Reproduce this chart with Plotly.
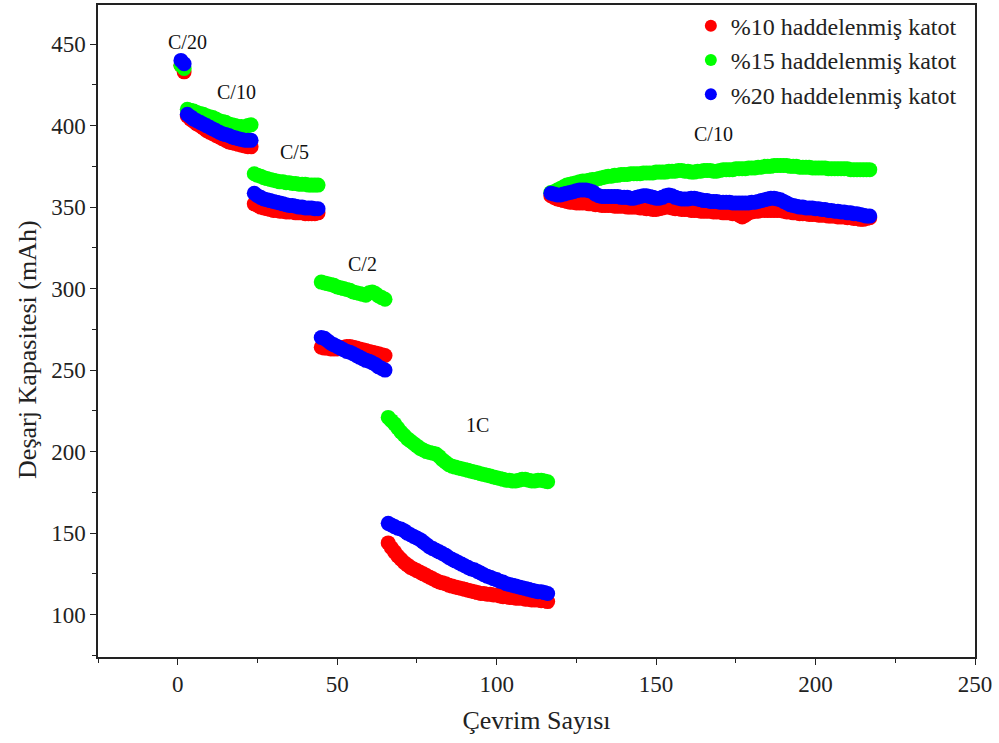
import plotly.graph_objects as go

# Cycle numbers (1..217)
cycles = list(range(1, 218))

# Discharge capacity (mAh) per cycle, grouped by C-rate step
red_c20 = [437, 433]
red_c10a = [406, 404, 402.5, 401, 400, 398.5, 397, 396, 395, 394, 393, 392, 391, 390, 389.5,
            389, 388.5, 388, 387.5, 387, 387]
red_c5 = [352, 351, 350, 349.5, 349, 348.5, 348, 348, 347.5, 347.5, 347, 347, 347, 346.5, 346.5,
          346.5, 346, 346, 346, 346, 346.5]
red_c2 = [264, 263.5, 263.5, 263, 263, 263, 263.5, 264, 264.5, 264.5, 264, 263.5, 263, 262.5, 262,
          261.5, 261, 260.5, 260, 259.5, 259]
red_1c = [144, 141, 138.5, 136, 134, 132, 130.5, 129, 128, 127, 126, 125, 124, 123, 122, 121, 120,
          119.5, 119, 118, 117.5, 117, 116.5, 116, 115.5, 115, 114.5, 114, 113.5, 113, 113, 112.5,
          112.5, 112, 112, 111.5, 111, 111, 110.5, 110.5, 110, 110, 110, 109.5, 109.5, 109, 109, 109,
          108.5, 108.5, 108]
red_c10b = [357, 356, 355, 354.5, 354, 353.5, 353, 353, 352.5, 352.5,
            352.5, 352.5, 352, 352, 351.5, 351.5, 351, 351, 351, 351,
            350.5, 350.5, 350.5, 350.5, 350, 350, 350, 350, 349.5, 349.5,
            349, 349, 348.5, 348.5, 349, 349.5, 350, 350, 349.5, 349,
            349, 348.5, 348.5, 348.5, 348, 348, 348, 347.5, 347.5, 347.5,
            347.5, 347, 347, 347, 346.5, 346.5, 346.5, 346, 346, 345,
            344, 345, 346.5, 347, 347.5, 347.5, 348, 348, 348, 348,
            348, 348, 348, 347.5, 347, 347, 346.5, 346.5, 346, 346,
            346, 345.5, 345.5, 345.5, 345, 345, 345, 344.5, 344.5, 344.5,
            344, 344, 344, 343.5, 343.5, 343, 343, 342.5, 342.5, 343, 343.5]

green_c20 = [437, 435]
green_c10a = [410, 409.5, 409, 408, 407.5, 407, 406, 405.5, 405, 404, 403, 402.5, 402, 401, 400.5,
              400, 399.5, 399.5, 399, 400, 400.5]
green_c5 = [370.5, 369.5, 369, 368, 367.5, 367, 366.5, 366, 365.5, 365.5, 365, 365, 364.5, 364.5,
            364, 364, 364, 363.5, 363.5, 363.5, 363.5]
green_c2 = [304, 303.5, 303, 302.5, 302, 301, 300.5, 300, 299.5, 299, 298, 297.5, 297, 296.5, 296,
            297.5, 298, 297, 295.5, 294.5, 293.5]
green_1c = [221, 219, 217, 214.5, 212, 210, 208, 206.5, 205, 203.5, 202, 201, 200, 199.5, 199, 198.5,
            197, 195, 193.5, 192, 191, 190.5, 190, 189.5, 189, 188.5, 188, 187.5, 187, 186.5, 186,
            185.5, 185, 184.5, 184, 183.5, 183, 182.5, 182.5, 182, 182, 182.5, 183, 183, 182.5, 182,
            182, 182.5, 182.5, 182, 181.5]
green_c10b = [359, 359.5, 360.5, 361.5, 362.5, 363.5, 364, 364.5, 365, 365.5,
              366, 366, 366.5, 367, 367, 367.5, 368, 368.5, 369, 369,
              369.5, 369.5, 370, 370, 370, 370.5, 370.5, 370.5, 370.5, 371,
              371, 371, 371, 371.5, 371.5, 371.5, 371.5, 372, 372, 372,
              372.5, 372.5, 372, 372, 371.5, 371.5, 372, 372, 372.5, 372.5,
              372.5, 372, 372, 372.5, 373, 373, 373, 373, 373.5, 373.5,
              373.5, 373.5, 374, 374, 374, 374.5, 374.5, 375, 375, 375,
              375.5, 375.5, 375.5, 375.5, 375.5, 375, 375, 375, 374.5, 374.5,
              374.5, 374.5, 374, 374, 374, 374, 374, 373.5, 373.5, 373.5,
              373.5, 373.5, 373.5, 373.5, 373, 373, 373, 373, 373, 373, 373]

blue_c20 = [440, 438]
blue_c10a = [407, 405.5, 404, 403, 402, 401, 400, 399, 398, 397, 396, 395, 394.5, 394, 393, 392.5,
             392, 391.5, 391, 391, 391]
blue_c5 = [358.5, 357, 356, 355, 354.5, 354, 353.5, 353, 352.5, 352, 351.5, 351, 351, 350.5, 350,
           350, 349.5, 349.5, 349.5, 349, 349]
blue_c2 = [270, 269.5, 268, 266.5, 265.5, 264.5, 263.5, 262.5, 261.5, 261, 260, 259, 258, 257, 256,
           255.5, 254.5, 253.5, 252, 251, 250]
blue_1c = [156, 155, 154, 153, 152.5, 151.5, 150, 149, 148, 147, 146, 144.5, 143, 141.5, 140.5, 139.5,
           138.5, 137.5, 136.5, 135, 134, 133, 132, 131, 130, 129, 128, 127.5, 126.5, 125.5, 124.5,
           123.5, 123, 122, 121.5, 120.5, 120, 119, 118.5, 118, 117.5, 117, 116.5, 116, 115.5, 115,
           114.5, 114, 114, 113.5, 113]
blue_c10b = [358.5, 358, 357.5, 357.5, 358, 358.5, 359, 359.5, 360, 360.5,
             360.5, 360.5, 360, 359.5, 358, 357, 356.5, 356.5, 356.5, 356.5,
             356.5, 356.5, 356, 356, 356, 355.5, 355.5, 356, 356.5, 357,
             357, 356.5, 356, 355.5, 355.5, 356, 357, 357.5, 357, 356,
             355.5, 355, 355, 355, 355.5, 355.5, 355, 354.5, 354, 354,
             353.5, 353.5, 353.5, 353, 353, 353, 353, 352.5, 352.5, 352.5,
             352.5, 352.5, 352.5, 353, 353, 353.5, 354, 354.5, 355, 355.5,
             355.5, 355, 354.5, 353.5, 352.5, 351.5, 351, 350.5, 350, 350,
             349.5, 349.5, 349.5, 349, 349, 348.5, 348.5, 348, 348, 347.5,
             347.5, 347, 347, 346.5, 346.5, 346, 346, 345.5, 345, 344.5, 344.5]

cap_10 = red_c20 + red_c10a + red_c5 + red_c2 + red_1c + red_c10b
cap_15 = green_c20 + green_c10a + green_c5 + green_c2 + green_1c + green_c10b
cap_20 = blue_c20 + blue_c10a + blue_c5 + blue_c2 + blue_1c + blue_c10b

series_names = ["%10 haddelenmiş katot", "%15 haddelenmiş katot", "%20 haddelenmiş katot"]
series_values = [cap_10, cap_15, cap_20]
series_colors = ["#ff0000", "#00ff00", "#0000ff"]

# C-rate labels and their positions (cycle, capacity)
rate_labels = ["C/20", "C/10", "C/5", "C/2", "1C", "C/10"]
rate_x = [3, 18.5, 36.5, 58, 94, 168]
rate_y = [451, 420.5, 384, 315, 216.5, 395]

FONT = "Liberation Serif"

fig = go.Figure()
for name, vals, col in zip(series_names, series_values, series_colors):
    fig.add_trace(go.Scatter(
        x=cycles, y=vals, mode="markers", name=name,
        marker=dict(color=col, size=15, line=dict(width=0)),
    ))

for txt, xv, yv in zip(rate_labels, rate_x, rate_y):
    fig.add_annotation(x=xv, y=yv, text=txt, showarrow=False,
                       font=dict(family=FONT, size=20, color="#111"))

# y-axis title placed as a rotated paper-space label
fig.add_annotation(x=-0.0798, y=0.471, xref="paper", yref="paper",
                   text="Deşarj Kapasitesi (mAh)", textangle=-90, showarrow=False,
                   xanchor="center", yanchor="middle",
                   font=dict(family=FONT, size=26, color="#222"))

axis_common = dict(
    showline=True, linecolor="#222", linewidth=1.5, mirror=True,
    ticks="outside", ticklen=6, tickwidth=1.2, tickcolor="#222",
    showgrid=False, zeroline=False,
    tickfont=dict(family=FONT, size=23, color="#222"),
)

fig.update_xaxes(
    range=[-25, 250], tick0=0, dtick=50,
    minor=dict(ticks="outside", ticklen=4, tickwidth=1.2, tickcolor="#222", dtick=25, tick0=0),
    title=dict(text="Çevrim Sayısı", font=dict(family=FONT, size=26, color="#222"), standoff=14),
    **axis_common,
)
fig.update_yaxes(
    range=[74, 474], tick0=0, dtick=50,
    minor=dict(ticks="outside", ticklen=4, tickwidth=1.2, tickcolor="#222", dtick=25, tick0=0),
    **axis_common,
)

fig.update_layout(
    width=999, height=743,
    margin=dict(l=98, r=24, t=5, b=86, autoexpand=False),
    paper_bgcolor="white", plot_bgcolor="white",
    showlegend=True,
    legend=dict(
        x=0.985, y=1.002, xanchor="right", yanchor="top",
        bgcolor="rgba(0,0,0,0)", borderwidth=0,
        font=dict(family=FONT, size=24, color="#222"),
        itemsizing="constant", tracegroupgap=0,
    ),
)

fig.write_html("out.html")
